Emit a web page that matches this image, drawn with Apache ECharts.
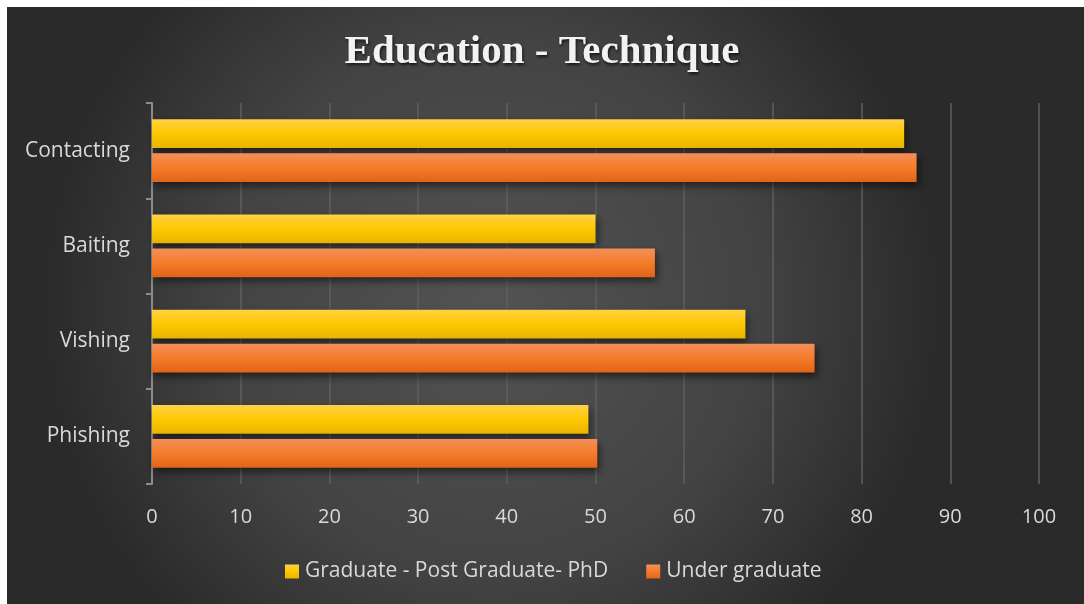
<!DOCTYPE html>
<html>
<head>
<meta charset="utf-8">
<script src="https://cdn.jsdelivr.net/npm/echarts@6/dist/echarts.min.js"></script>
<style>
html,body{margin:0;padding:0;background:#ffffff;}
#chart{width:1084px;height:604px;}
</style>
</head>
<body>
<div id="chart"></div>
<script>
const categories = ['Phishing', 'Vishing', 'Baiting', 'Contacting'];
const seriesNames = ['Graduate - Post Graduate- PhD', 'Under graduate'];
const graduateValues = [49.2, 66.9, 50.0, 84.8];
const undergradValues = [50.2, 74.7, 56.7, 86.2];
const xTicks = [0, 10, 20, 30, 40, 50, 60, 70, 80, 90, 100];

const chart = echarts.init(document.getElementById('chart'), null, {renderer: 'canvas'});

const yellowGrad = new echarts.graphic.LinearGradient(0, 0, 0, 1, [
  {offset: 0, color: '#ffd146'},
  {offset: 0.5, color: '#ffc800'},
  {offset: 1, color: '#e8b400'}
]);
const orangeGrad = new echarts.graphic.LinearGradient(0, 0, 0, 1, [
  {offset: 0, color: '#f38f5a'},
  {offset: 0.5, color: '#f47c2a'},
  {offset: 1, color: '#e26417'}
]);

const option = {
  animation: false,
  graphic: [{
    type: 'rect',
    z: -10,
    left: 7, top: 7,
    shape: {width: 1077, height: 597},
    style: {
      fill: new echarts.graphic.RadialGradient(0.45, 0.5, 0.75, [
        {offset: 0, color: '#535353'},
        {offset: 0.6, color: '#434343'},
        {offset: 1, color: '#2a2a2a'}
      ])
    },
    silent: true
  }],
  title: {
    text: 'Education - Technique',
    left: 'center',
    top: 27,
    textStyle: {
      fontFamily: 'Liberation Serif',
      fontWeight: 'bold',
      fontSize: 41,
      color: '#f2f2f2',
      textShadowColor: 'rgba(0,0,0,0.7)',
      textShadowBlur: 3,
      textShadowOffsetX: 1,
      textShadowOffsetY: 2
    }
  },
  legend: {
    data: seriesNames,
    bottom: 17,
    left: 280,
    itemWidth: 14,
    itemHeight: 14,
    itemGap: 38,
    icon: 'rect',
    textStyle: {color: '#d9d9d9', fontSize: 21, fontFamily: 'Open Sans', padding: [0,0,0,1]}
  },
  grid: {left: 152, right: 45, top: 103, bottom: 120, containLabel: false},
  xAxis: {
    type: 'value',
    min: 0, max: 100, interval: 10,
    axisLine: {show: false},
    axisTick: {show: false},
    splitLine: {show: true, lineStyle: {color: '#5f5f5f', width: 1.5}},
    axisLabel: {
      color: '#d9d9d9', fontSize: 20, fontFamily: 'Open Sans', margin: 23,
      formatter: function (v) { return xTicks.indexOf(v) >= 0 ? String(v) : ''; }
    }
  },
  yAxis: {
    type: 'category',
    data: categories,
    axisLine: {show: true, lineStyle: {color: '#8c8c8c', width: 2}},
    axisTick: {show: true, length: 6, lineStyle: {color: '#8c8c8c', width: 2}},
    axisLabel: {color: '#d9d9d9', fontSize: 21, fontFamily: 'Open Sans', margin: 22},
    splitLine: {show: false}
  },
  series: [
    {
      name: seriesNames[0],
      type: 'bar',
      data: graduateValues,
      barGap: '18%',
      barCategoryGap: '34%',
      itemStyle: {color: yellowGrad, shadowColor: 'rgba(0,0,0,0.55)', shadowBlur: 8, shadowOffsetX: 2, shadowOffsetY: 4}
    },
    {
      name: seriesNames[1],
      type: 'bar',
      data: undergradValues,
      barGap: '18%',
      barCategoryGap: '34%',
      itemStyle: {color: orangeGrad, shadowColor: 'rgba(0,0,0,0.55)', shadowBlur: 8, shadowOffsetX: 2, shadowOffsetY: 4}
    }
  ]
};
chart.setOption(option);
</script>
</body>
</html>
